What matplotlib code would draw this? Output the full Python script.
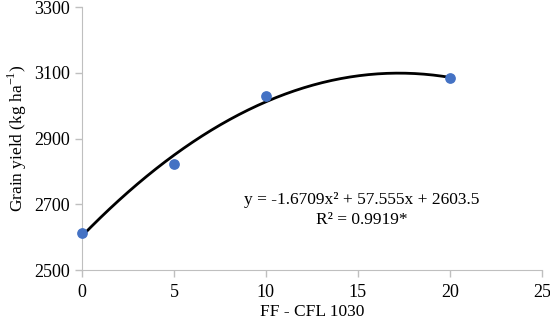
import numpy as np
import matplotlib.pyplot as plt

plt.rcParams['font.family'] = ['Liberation Serif', 'DejaVu Serif']

# data
doses = [0, 5, 10, 20]
grain_yield = [2612, 2823, 3030, 3084]
coef = [-1.6709, 57.555, 2603.5]
x_ticks = [0, 5, 10, 15, 20, 25]
y_ticks = [2500, 2700, 2900, 3100, 3300]

fig = plt.figure(figsize=(5.5, 3.22), dpi=100)
ax = fig.add_axes([0.149, 0.161, 0.836, 0.817])

xs = np.linspace(0, 20, 200)
ax.plot(xs, np.polyval(coef, xs), color='black', linewidth=2, zorder=2)
ax.scatter(doses, grain_yield, s=45, color='#4472C4', zorder=3, clip_on=False)

ax.set_xlim(0, 25)
ax.set_ylim(2500, 3300)
ax.set_xticks(x_ticks)
ax.set_yticks(y_ticks)

for side in ['top', 'right']:
    ax.spines[side].set_visible(False)
for side in ['left', 'bottom']:
    ax.spines[side].set_color('#BFBFBF')
ax.tick_params(colors='#BFBFBF', labelcolor='black', labelsize=13, length=5, width=1)
ax.tick_params(axis='x', pad=5)

ax.set_xlabel('FF - CFL 1030', fontsize=12.5, labelpad=2)
ax.set_ylabel('Grain yield (kg ha$^{\\mathregular{-1}}$)', fontsize=12.5, labelpad=4)

ax.text(15.2, 2713, 'y = -1.6709x² + 57.555x + 2603.5', ha='center', va='center', fontsize=12.5)
ax.text(15.2, 2652, 'R² = 0.9919*', ha='center', va='center', fontsize=12.5)

fig.savefig('out.png', dpi=100)
